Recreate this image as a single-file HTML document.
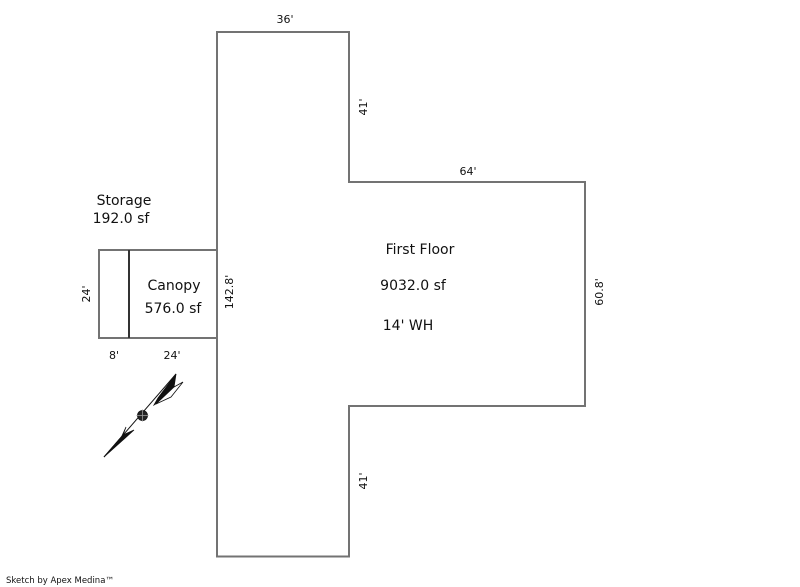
<!DOCTYPE html>
<html><head><meta charset="utf-8"><style>
html,body{margin:0;padding:0;background:#fff;}
svg{display:block;}
text{font-family:"DejaVu Sans","Liberation Sans",sans-serif;fill:#111;}
.m{font-size:14px;}
.d{font-size:11px;}
</style></head><body>
<svg width="800" height="587" viewBox="0 0 800 587" xmlns="http://www.w3.org/2000/svg">
<rect width="800" height="587" fill="#fff"/>
<polygon points="217,32 349,32 349,182 585,182 585,406 349,406 349,556.5 217,556.5" fill="none" stroke="#737373" stroke-width="2"/>
<rect x="99" y="250" width="118" height="88" fill="none" stroke="#737373" stroke-width="2"/>
<line x1="129" y1="250" x2="129" y2="338" stroke="#333" stroke-width="2"/>

<text class="d" x="285" y="23" text-anchor="middle">36'</text>
<text class="d" x="468" y="175" text-anchor="middle">64'</text>
<text class="d" transform="translate(367,107) rotate(-90)" text-anchor="middle">41'</text>
<text class="d" transform="translate(367,481) rotate(-90)" text-anchor="middle">41'</text>
<text class="d" transform="translate(603,292) rotate(-90)" text-anchor="middle">60.8'</text>
<text class="d" transform="translate(233,292) rotate(-90)" text-anchor="middle">142.8'</text>
<text class="d" transform="translate(90,294) rotate(-90)" text-anchor="middle">24'</text>
<text class="d" x="114" y="359" text-anchor="middle">8'</text>
<text class="d" x="172" y="359" text-anchor="middle">24'</text>

<text class="m" x="124" y="205" text-anchor="middle">Storage</text>
<text class="m" x="121" y="223" text-anchor="middle">192.0 sf</text>
<text class="m" x="174" y="290" text-anchor="middle">Canopy</text>
<text class="m" x="173" y="313" text-anchor="middle">576.0 sf</text>
<text class="m" x="420" y="254" text-anchor="middle">First Floor</text>
<text class="m" x="413" y="290" text-anchor="middle">9032.0 sf</text>
<text class="m" x="408" y="330" text-anchor="middle">14' WH</text>

<!-- compass -->
<g stroke="#111" stroke-width="0.8" stroke-linejoin="miter">
  <line x1="104" y1="457" x2="176" y2="374" stroke-width="1"/>
  <polygon points="176,374 158,398 154,405 164,399 174,387" fill="#111"/>
  <polygon points="174,387 183,382 171,397 156,404" fill="#fff"/>
  <polygon points="104,457 134,430 123,435" fill="#111"/>
  <polygon points="104,457 121,438 126,427 123,435" fill="#fff"/>
  <circle cx="142.5" cy="415.5" r="5" fill="#222"/>
  <line x1="136.5" y1="415.5" x2="148.5" y2="415.5" stroke="#999" stroke-width="0.8"/>
  <line x1="142.5" y1="409.5" x2="142.5" y2="421.5" stroke="#999" stroke-width="0.8"/>
</g>

<text x="6" y="583" style="font-size:8.5px;">Sketch by Apex Medina™</text>
</svg>
</body></html>
